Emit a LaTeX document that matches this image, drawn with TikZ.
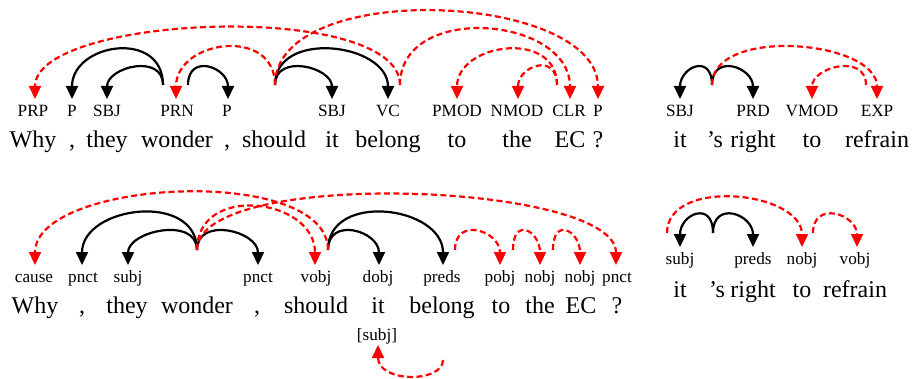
\documentclass[tikz,border=0pt]{standalone}
\usepackage{fontspec}
\setmainfont{Liberation Serif}
\usetikzlibrary{arrows.meta}
\begin{document}
\begin{tikzpicture}[x=0.5pt,y=-0.5pt,
  word/.style={anchor=base,inner sep=0pt,font=\fontsize{12}{14}\selectfont},
  lab/.style={anchor=base,inner sep=0pt,font=\fontsize{8.6}{10}\selectfont},
  dep/.style={line width=1.1pt,-{Triangle[width=6pt,length=6.5pt]}},
  bdep/.style={dep,draw=black},
  rdep/.style={dep,draw=red,dash pattern=on 3pt off 1.7pt},
]
\useasboundingbox (0,0) rectangle (914,379);

% ---------------- top left ----------------
\node[word] (a1) at (33,148) {Why};
\node[word] (a2) at (72,148) {,};
\node[word] (a3) at (107,148) {they};
\node[word] (a4) at (177,148) {wonder};
\node[word] (a5) at (227,148) {,};
\node[word] (a6) at (274,148) {should};
\node[word] (a7) at (332,148) {it};
\node[word] (a8) at (388,148) {belong};
\node[word] (a9) at (457,148) {to};
\node[word] (a10) at (517,148) {the};
\node[word] (a11) at (570,148) {EC};
\node[word] (a12) at (598,148) {?};

\node[lab] (la1) at (33,117) {PRP};
\node[lab] (la2) at (72,117) {P};
\node[lab] (la3) at (107,117) {SBJ};
\node[lab] (la4) at (177,117) {PRN};
\node[lab] (la5) at (227,117) {P};
\node[lab] (la7) at (332,117) {SBJ};
\node[lab] (la8) at (388,117) {VC};
\node[lab] (la9) at (457,117) {PMOD};
\node[lab] (la10) at (517,117) {NMOD};
\node[lab] (la11) at (569,117) {CLR};
\node[lab] (la12) at (598,117) {P};

\coordinate (sa4l) at (163,85);
\coordinate (sa4r) at (188,85);
\coordinate (sa6) at (275,85);
\coordinate (sa8) at (400,85);
\coordinate (sa11) at (557,85);
\coordinate (ta1) at (35,99);
\coordinate (ta2) at (72,99);
\coordinate (ta3) at (107,99);
\coordinate (ta4) at (176,99);
\coordinate (ta5) at (228,99);
\coordinate (ta7) at (332,99);
\coordinate (ta8) at (388,99);
\coordinate (ta9) at (457,99);
\coordinate (ta10) at (518,99);
\coordinate (ta11) at (570,99);
\coordinate (ta12) at (598,99);

\draw[bdep] (sa4l) .. controls +(0,-56) and +(0,-56) .. (ta2);
\draw[bdep] (sa4l) .. controls +(0,-32) and +(0,-32) .. (ta3);
\draw[bdep] (sa4r) .. controls +(0,-32) and +(0,-32) .. (ta5);
\draw[bdep] (sa6) .. controls +(0,-32) and +(0,-32) .. (ta7);
\draw[bdep] (sa6) .. controls +(0,-56) and +(0,-56) .. (ta8);
\draw[rdep] (sa8) .. controls +(0,-85) and +(0,-85) .. (ta1);
\draw[rdep] (sa6) .. controls +(0,-59) and +(0,-59) .. (ta4);
\draw[rdep] (sa6) .. controls +(0,-107) and +(0,-107) .. (ta12);
\draw[rdep] (sa8) .. controls +(0,-83) and +(0,-83) .. (ta11);
\draw[rdep] (sa11) .. controls +(0,-56) and +(0,-56) .. (ta9);
\draw[rdep] (sa11) .. controls +(0,-33) and +(0,-33) .. (ta10);

% ---------------- top right ----------------
\node[word] (b1) at (680,148) {it};
\node[word] (b2) at (715,148) {’s};
\node[word] (b3) at (753,148) {right};
\node[word] (b4) at (812,148) {to};
\node[word] (b5) at (877,148) {refrain};
\node[lab] (lb1) at (680,117) {SBJ};
\node[lab] (lb3) at (753,117) {PRD};
\node[lab] (lb4) at (812,117) {VMOD};
\node[lab] (lb5) at (877,117) {EXP};

\coordinate (sb2) at (712,85);
\coordinate (sb5) at (866,85);
\coordinate (tb1) at (680,99);
\coordinate (tb3) at (753,99);
\coordinate (tb4) at (812,99);
\coordinate (tb5) at (877,99);

\draw[bdep] (sb2) .. controls +(0,-32) and +(0,-32) .. (tb1);
\draw[bdep] (sb2) .. controls +(0,-32) and +(0,-32) .. (tb3);
\draw[rdep] (sb2) .. controls +(0,-59) and +(0,-59) .. (tb5);
\draw[rdep] (sb5) .. controls +(0,-32) and +(0,-32) .. (tb4);

% ---------------- bottom left ----------------
\node[word] (c1) at (35,313) {Why};
\node[word] (c2) at (82,313) {,};
\node[word] (c3) at (127,313) {they};
\node[word] (c4) at (197,313) {wonder};
\node[word] (c5) at (257,313) {,};
\node[word] (c6) at (316,313) {should};
\node[word] (c7) at (378,313) {it};
\node[word] (c8) at (442,313) {belong};
\node[word] (c9) at (501,313) {to};
\node[word] (c10) at (540,313) {the};
\node[word] (c11) at (581,313) {EC};
\node[word] (c12) at (617,313) {?};

\node[lab] (lc1) at (34,282) {cause};
\node[lab] (lc2) at (83,282) {pnct};
\node[lab] (lc3) at (128,282) {subj};
\node[lab] (lc5) at (258,282) {pnct};
\node[lab] (lc6) at (316,282) {vobj};
\node[lab] (lc7) at (378,282) {dobj};
\node[lab] (lc8) at (442,282) {preds};
\node[lab] (lc9) at (500,282) {pobj};
\node[lab] (lc10) at (540,282) {nobj};
\node[lab] (lc11) at (580,282) {nobj};
\node[lab] (lc12) at (617,282) {pnct};
\node[lab] (lc7b) at (377,340) {[subj]};

\coordinate (sc4) at (197,250);
\coordinate (sc6) at (328,250);
\coordinate (sc8) at (455,250);
\coordinate (sc9) at (513,250);
\coordinate (sc10) at (553,250);
\coordinate (tc1) at (35,265);
\coordinate (tc2) at (82,265);
\coordinate (tc3) at (128,265);
\coordinate (tc5) at (258,265);
\coordinate (tc6) at (315,265);
\coordinate (tc7) at (379,265);
\coordinate (tc8) at (443,265);
\coordinate (tc9) at (500,265);
\coordinate (tc10) at (540,265);
\coordinate (tc11) at (580,265);
\coordinate (tc12) at (616,265);
\coordinate (sc8b) at (443,360);
\coordinate (tc7b) at (378,345);

\draw[bdep] (sc4) .. controls +(0,-59) and +(0,-59) .. (tc2);
\draw[bdep] (sc4) .. controls +(0,-34) and +(0,-34) .. (tc3);
\draw[bdep] (sc4) .. controls +(0,-34) and +(0,-34) .. (tc5);
\draw[bdep] (sc6) .. controls +(0,-34) and +(0,-34) .. (tc7);
\draw[bdep] (sc6) .. controls +(0,-59) and +(0,-59) .. (tc8);
\draw[rdep] (sc6) .. controls +(0,-86) and +(0,-86) .. (tc1);
\draw[rdep] (sc4) .. controls +(0,-67) and +(0,-67) .. (tc6);
\draw[rdep] (sc4) .. controls +(0,-83) and +(0,-83) .. (tc12);
\draw[rdep] (sc8) .. controls +(0,-34) and +(0,-34) .. (tc9);
\draw[rdep] (sc9) .. controls +(0,-34) and +(0,-34) .. (tc10);
\draw[rdep] (sc10) .. controls +(0,-34) and +(0,-34) .. (tc11);
\draw[rdep] (sc8b) .. controls +(0,23) and +(0,38) .. (tc7b);

% ---------------- bottom right ----------------
\node[word] (d1) at (680,297) {it};
\node[word] (d2) at (717,297) {’s};
\node[word] (d3) at (753,297) {right};
\node[word] (d4) at (802,297) {to};
\node[word] (d5) at (855,297) {refrain};
\node[lab] (ld1) at (680,264) {subj};
\node[lab] (ld3) at (753,264) {preds};
\node[lab] (ld4) at (802,264) {nobj};
\node[lab] (ld5) at (855,264) {vobj};

\coordinate (sd1) at (667,233);
\coordinate (sd2) at (713,233);
\coordinate (sd4) at (813,233);
\coordinate (td1) at (680,247);
\coordinate (td3) at (753,247);
\coordinate (td4) at (802,247);
\coordinate (td5) at (857,247);

\draw[bdep] (sd2) .. controls +(0,-33) and +(0,-33) .. (td1);
\draw[bdep] (sd2) .. controls +(0,-33) and +(0,-33) .. (td3);
\draw[rdep] (sd1) .. controls +(0,-56) and +(0,-56) .. (td4);
\draw[rdep] (sd4) .. controls +(0,-33) and +(0,-33) .. (td5);
\end{tikzpicture}
\end{document}
